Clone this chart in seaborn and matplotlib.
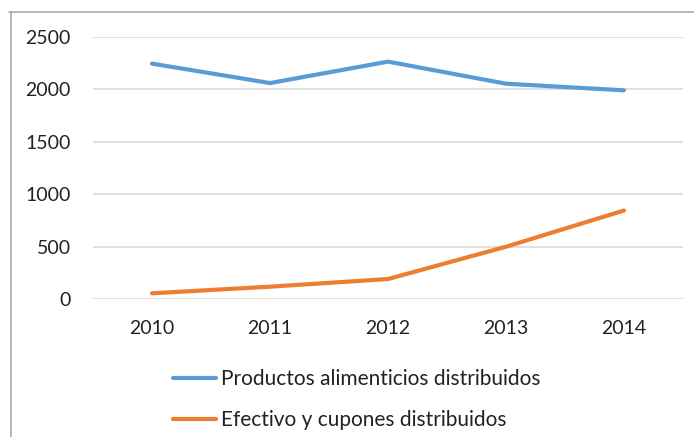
import matplotlib
matplotlib.use("Agg")
import matplotlib.pyplot as plt
import seaborn as sns
import pandas as pd
from matplotlib.lines import Line2D

years = ["2010", "2011", "2012", "2013", "2014"]
productos = [2242, 2057, 2261, 2051, 1988]
efectivo = [57, 120, 193, 500, 845]
series_names = ["Productos alimenticios distribuidos", "Efectivo y cupones distribuidos"]
y_ticks = [0, 500, 1000, 1500, 2000, 2500]
colors = ["#5B9BD5", "#ED7D31"]

df = pd.DataFrame({
    "idx": list(range(len(years))) * 2,
    "value": productos + efectivo,
    "serie": [series_names[0]] * len(years) + [series_names[1]] * len(years),
})

sns.set_theme(style="white")
plt.rcParams["font.family"] = ["Lato", "DejaVu Sans"]

W, H = 694, 437
fig = plt.figure(figsize=(W / 100, H / 100), dpi=100)
fig.patch.set_facecolor("white")

left, right = 93 / W, 683 / W
bottom, top = 1 - 299.3 / H, 1 - 36.5 / H
ax = fig.add_axes([left, bottom, right - left, top - bottom])

sns.lineplot(data=df, x="idx", y="value", hue="serie", palette=colors,
             linewidth=3.0, ax=ax, legend=False, solid_capstyle="round")

ax.set_xlim(-0.5, len(years) - 0.5)
ax.set_ylim(0, 2500)
ax.set_yticks(y_ticks)
ax.set_yticklabels([str(v) for v in y_ticks], fontsize=14, color="#222222")
ax.set_xticks(range(len(years)))
ax.set_xticklabels(years, fontsize=14, color="#222222")
ax.tick_params(axis="both", length=0)
ax.tick_params(axis="y", pad=16)
ax.tick_params(axis="x", pad=15)
ax.grid(axis="y", color="#D9D9D9", linewidth=1.2)
ax.set_axisbelow(True)
for s in ax.spines.values():
    s.set_visible(False)
ax.set_xlabel("")
ax.set_ylabel("")

# figure border (top and left visible)
fig.add_artist(Line2D([9 / W, 1], [1 - 12 / H, 1 - 12 / H], transform=fig.transFigure,
                      color="#ABABAB", linewidth=1.2))
fig.add_artist(Line2D([11 / W, 11 / W], [0, 1 - 12 / H], transform=fig.transFigure,
                      color="#ABABAB", linewidth=1.2))

handles = [Line2D([], [], color=c, linewidth=3.0, solid_capstyle="round") for c in colors]
fig.legend(handles, series_names, loc="upper left",
           bbox_to_anchor=(165 / W, 1 - 361 / H), frameon=False, fontsize=15,
           handlelength=2.07, handletextpad=0.2, labelspacing=1.0,
           borderaxespad=0, labelcolor="#222222")

fig.savefig("out.png", dpi=100)
